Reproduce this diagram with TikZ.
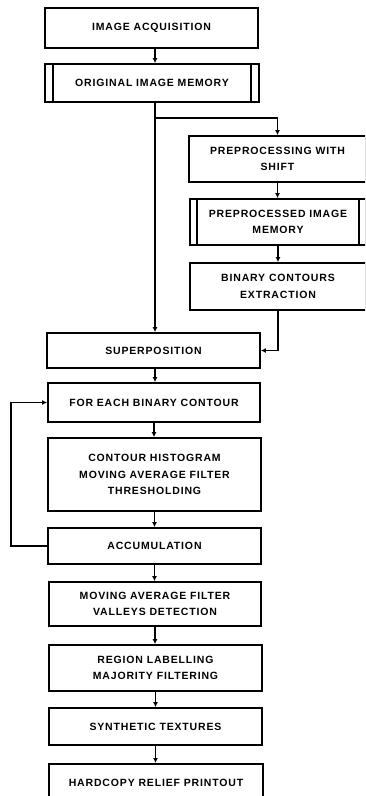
\documentclass[tikz,border=0pt]{standalone}
\usepackage{fontspec}
\setmainfont{Liberation Sans}[LetterSpace=8]
\usetikzlibrary{arrows.meta}
\tikzset{
  box/.style={draw, line width=1.8pt, rectangle, align=center, inner sep=0pt,
    font=\fontsize{10.5}{16.5}\selectfont\bfseries},
  membox/.style={box, path picture={
      \draw[line width=1.4pt] ([xshift=#1]path picture bounding box.north west) -- ([xshift=#1]path picture bounding box.south west);
      \draw[line width=1.4pt] ([xshift=-#1]path picture bounding box.north east) -- ([xshift=-#1]path picture bounding box.south east);}},
  arr/.style={line width=1.6pt, -{Latex[length=5pt,width=5pt]}},
  ln/.style={line width=1.6pt}
}
\begin{document}
\begin{tikzpicture}[x=1pt,y=-1pt]
\useasboundingbox (0,0) rectangle (365,796);
\clip (0,0) rectangle (365,796);
\node[box, minimum width=213pt, minimum height=40pt] (acq) at (151.5,28) {IMAGE ACQUISITION};
\node[membox=8pt, minimum width=214pt, minimum height=38pt] (orig) at (152,83) {ORIGINAL IMAGE MEMORY};
\node[box, minimum width=177pt, minimum height=46pt] (pre) at (277.5,159) {PREPROCESSING WITH\\SHIFT};
\node[membox=7pt, minimum width=176pt, minimum height=46pt] (ppm) at (278,222) {PREPROCESSED IMAGE\\MEMORY};
\node[box, minimum width=176pt, minimum height=47pt] (bce) at (278,286.5) {BINARY CONTOURS\\EXTRACTION};
\node[box, minimum width=213pt, minimum height=35pt] (sup) at (153.5,350.5) {SUPERPOSITION};
\node[box, minimum width=212pt, minimum height=39pt] (each) at (154,402.5) {FOR EACH BINARY CONTOUR};
\node[box, minimum width=213pt, minimum height=73pt] (hist) at (154.5,474.5) {CONTOUR HISTOGRAM\\MOVING AVERAGE FILTER\\THRESHOLDING};
\node[box, minimum width=213pt, minimum height=36pt] (acc) at (154.5,546) {ACCUMULATION};
\node[box, minimum width=212pt, minimum height=44pt] (mav) at (155,604) {MOVING AVERAGE FILTER\\VALLEYS DETECTION};
\node[box, minimum width=213pt, minimum height=46pt] (reg) at (155.5,668) {REGION LABELLING\\MAJORITY FILTERING};
\node[box, minimum width=213pt, minimum height=37pt] (syn) at (155.5,726.5) {SYNTHETIC TEXTURES};
\node[box, minimum width=214pt, minimum height=44pt, text depth=0pt, anchor=north] (hard) at (156,763) {\raisebox{6pt}{HARDCOPY RELIEF PRINTOUT}};

\coordinate (br) at (155,118);
\draw[arr] (acq.south -| br) -- (orig.north -| br);
\draw[arr] (orig.south -| br) -- (sup.north -| br);
\draw[arr] (br) -| (pre.north);
\draw[arr] (pre.south) -- (ppm.north -| pre.south);
\draw[arr] (ppm.south) -- (bce.north -| ppm.south);
\draw[arr] (bce.south) |- (sup.east);
\draw[arr] (sup.south -| br) -- (each.north -| br);
\draw[arr] (each.south) -- (hist.north -| each.south);
\draw[arr] (hist.south) -- (acc.north -| hist.south);
\draw[arr] (acc.west) -- ++(-36,0) coordinate (fb) |- (each.west);
\draw[arr] (acc.south) -- (mav.north -| acc.south);
\draw[arr] (mav.south) -- (reg.north -| mav.south);
\draw[arr] (reg.south) -- (syn.north -| reg.south);
\draw[arr] (syn.south) -- (hard.north -| syn.south);
\end{tikzpicture}
\end{document}
